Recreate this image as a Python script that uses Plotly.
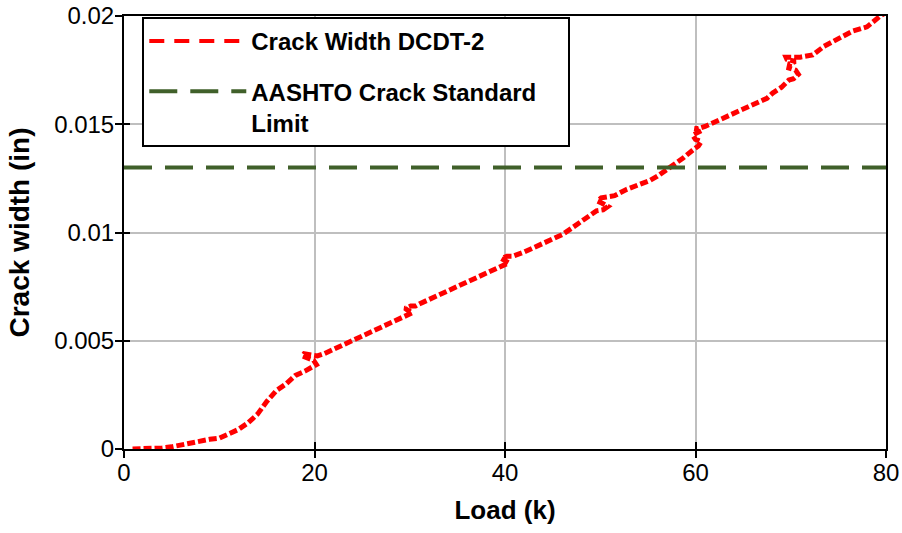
import plotly.graph_objects as go

# Load (kips) and measured crack width (in) from DCDT-2, in recording order
load_k = [0.9, 2.0, 3.0, 4.0, 5.0, 6.0, 7.0, 8.0, 9.0, 10.0, 11.0, 11.5, 12.0, 13.0,
          14.0, 15.0, 16.0, 17.0, 18.0, 19.0, 19.8, 20.2, 19.9, 19.2, 18.7, 18.9,
          19.6, 20.3, 21.0, 22.0, 23.0, 24.0, 25.0, 26.0, 27.0, 28.0, 29.0, 29.8,
          30.3, 29.8, 29.5, 30.1, 30.6, 31.0, 32.0, 33.0, 34.0, 35.0, 36.0, 37.0,
          38.0, 39.0, 39.8, 40.4, 40.0, 39.6, 40.2, 40.8, 42.0, 43.0, 44.0, 45.0,
          46.0, 47.0, 48.0, 49.0, 49.6, 50.3, 50.8, 50.2, 49.7, 50.1, 50.8, 51.5,
          52.8, 54.0, 55.2, 56.0, 57.0, 58.0, 58.7, 59.7, 60.3, 60.6, 60.0, 59.7,
          60.2, 60.6, 59.9, 60.3, 61.0, 62.0, 62.6, 63.5, 64.7, 65.4, 66.5, 67.5,
          68.1, 69.0, 69.8, 70.3, 70.8, 70.5, 69.8, 69.9, 70.5, 69.6, 69.5, 70.3,
          71.0, 72.3, 73.5, 75.2, 76.5, 78.0, 79.4, 80.5]
crack_in = [0.0, 0.0, 0.00002, 0.00005, 0.0001, 0.0002, 0.0003, 0.0004, 0.00045,
            0.0005, 0.0007, 0.0008, 0.0009, 0.0012, 0.0016, 0.0022, 0.0027, 0.003,
            0.0034, 0.0036, 0.0038, 0.0039, 0.0041, 0.0042, 0.0043, 0.0044, 0.00435,
            0.0043, 0.0044, 0.0046, 0.0048, 0.005, 0.0052, 0.0054, 0.0056, 0.0058,
            0.006, 0.0062, 0.0063, 0.0064, 0.0065, 0.0066, 0.0066, 0.0067, 0.0069,
            0.0071, 0.0073, 0.0075, 0.0077, 0.0079, 0.0081, 0.0083, 0.0085, 0.0086,
            0.0087, 0.0088, 0.0089, 0.0089, 0.0091, 0.0093, 0.0095, 0.0097, 0.0099,
            0.0102, 0.0105, 0.0108, 0.011, 0.01105, 0.0112, 0.01135, 0.01145,
            0.0116, 0.01165, 0.0117, 0.012, 0.0122, 0.0124, 0.0126, 0.0129, 0.0132,
            0.01344, 0.0138, 0.014, 0.0142, 0.0143, 0.0145, 0.0146, 0.0147, 0.0148,
            0.0148, 0.0149, 0.0151, 0.0152, 0.0154, 0.01566, 0.01575, 0.016, 0.0162,
            0.01644, 0.0167, 0.01704, 0.0171, 0.0173, 0.0175, 0.0176, 0.0178, 0.0179,
            0.018, 0.0181, 0.0181, 0.0181, 0.0182, 0.0186, 0.019, 0.0193, 0.0195,
            0.02, 0.0203]

# AASHTO crack width limit (in) across the load range
limit_load = [0, 80]
limit_crack = [0.013, 0.013]

x_ticks = [0, 20, 40, 60, 80]
y_ticks = [0, 0.005, 0.01, 0.015, 0.02]
y_tick_text = ["0", "0.005", "0.01", "0.015", "0.02"]

RED = "#ff0000"
GREEN = "#40602a"
FONT = "Liberation Sans, Arial, sans-serif"
PAD = "\u00a0" * 4  # widens the legend box a little

fig = go.Figure()

# measured crack width
fig.add_trace(go.Scatter(
    x=load_k, y=crack_in, mode="lines", showlegend=False,
    line=dict(color=RED, width=5, dash="8px,3px"),
))
# legend entry for the measured series
fig.add_trace(go.Scatter(
    x=[None], y=[None], mode="lines", name="<b>Crack Width DCDT-2</b>",
    legendgroup="a", line=dict(color=RED, width=4, dash="15px,10px"),
))
# code limit
fig.add_trace(go.Scatter(
    x=limit_load, y=limit_crack, mode="lines",
    name="<b>AASHTO Crack Standard" + PAD + "<br>Limit</b>", legendgroup="b",
    line=dict(color=GREEN, width=4, dash="28px,13px"),
))
# carrier for the inward half of the cross ticks
fig.add_trace(go.Scatter(x=[None], y=[None], xaxis="x2", yaxis="y2",
                         showlegend=False, hoverinfo="skip"))

axis_common = dict(showline=True, linecolor="black", linewidth=2, mirror=True,
                   showgrid=True, gridcolor="#bfbfbf", gridwidth=2,
                   ticks="outside", ticklen=7, tickwidth=2, tickcolor="black",
                   zeroline=False, automargin=False,
                   tickfont=dict(family=FONT, size=24, color="black"))

fig.update_layout(
    width=902, height=533,
    margin=dict(l=124, r=16, t=16, b=84),
    plot_bgcolor="white", paper_bgcolor="white",
    xaxis=dict(range=[0, 80], tickvals=x_ticks, ticklabelstandoff=-6,
               **axis_common,
               title=dict(text="<b>Load (k)</b>", standoff=16,
                          font=dict(family=FONT, size=26, color="black"))),
    yaxis=dict(range=[0, 0.02], tickvals=y_ticks, ticktext=y_tick_text,
               ticklabelstandoff=-4, **axis_common,
               title=dict(text="<b>Crack width (in)</b>", standoff=16,
                          font=dict(family=FONT, size=28, color="black"))),
    xaxis2=dict(range=[0, 80], tickvals=x_ticks, overlaying="x", anchor="y2",
                side="bottom", ticks="inside", ticklen=7, tickwidth=2,
                tickcolor="black", showticklabels=False, showgrid=False,
                showline=False, zeroline=False, automargin=False),
    yaxis2=dict(range=[0, 0.02], tickvals=y_ticks, overlaying="y", anchor="x2",
                side="left", ticks="inside", ticklen=6, tickwidth=2,
                tickcolor="black", showticklabels=False, showgrid=False,
                showline=False, zeroline=False, automargin=False),
    legend=dict(x=0.024, y=0.998, xanchor="left", yanchor="top",
                bgcolor="white", bordercolor="black", borderwidth=2,
                font=dict(family=FONT, size=24, color="black"),
                valign="top", tracegroupgap=16, itemwidth=97),
    showlegend=True,
)

fig.write_html("out.html")
